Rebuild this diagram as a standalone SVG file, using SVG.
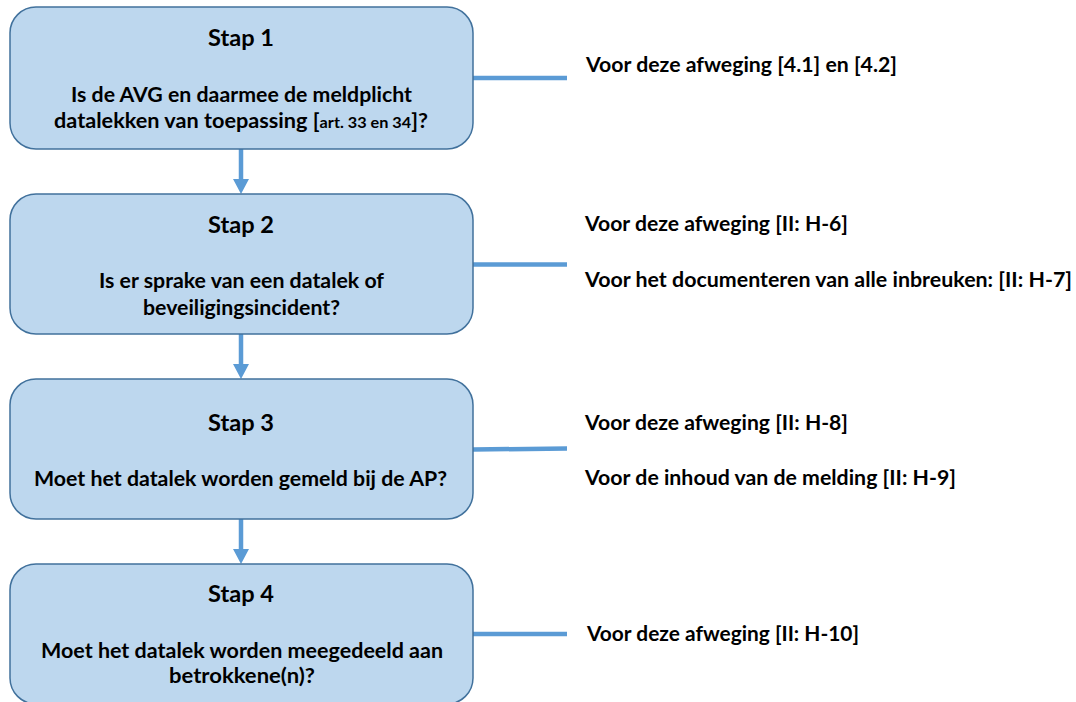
<svg xmlns="http://www.w3.org/2000/svg" width="1076" height="702" viewBox="0 0 1076 702">
  <defs>
    <style>
      .box { fill: #BDD7EE; stroke: #41719C; stroke-width: 1.5; }
      .link { stroke: #5B9BD5; stroke-width: 4.5; fill: none; }
      .head { fill: #5B9BD5; }
      text { font-family: Lato, "Open Sans", "Liberation Sans", sans-serif; font-weight: 700; fill: #000; }
      .title { font-size: 23px; text-anchor: middle; }
      .body { font-size: 20px; text-anchor: middle; }
      .small { font-size: 15px; }
      .note { font-size: 20px; text-anchor: start; }
    </style>
  </defs>

  <rect width="1076" height="702" fill="#FFFFFF"/>

  <!-- connectors: vertical flow arrows and side reference lines -->
  <g id="connectors">
    <line class="link" x1="241" y1="149" x2="241" y2="181"/>
    <polygon class="head" points="233,179 249,179 241,194"/>
    <line class="link" x1="241" y1="334" x2="241" y2="366"/>
    <polygon class="head" points="233,364 249,364 241,379"/>
    <line class="link" x1="241" y1="519" x2="241" y2="550"/>
    <polygon class="head" points="233,549 249,549 241,564"/>

    <line class="link" x1="473" y1="78" x2="567" y2="78" stroke-width="4"/>
    <line class="link" x1="473" y1="264.5" x2="567" y2="264.5" stroke-width="4"/>
    <line class="link" x1="473" y1="449.5" x2="567" y2="448.5" stroke-width="4"/>
    <line class="link" x1="473" y1="634" x2="567" y2="634" stroke-width="4"/>
  </g>

  <g id="stap1">
    <rect class="box" x="10" y="7" width="463" height="142" rx="26" ry="26"/>
    <text class="title" x="241" y="46" textLength="66" lengthAdjust="spacingAndGlyphs">Stap 1</text>
    <text class="body" x="241.5" y="102" textLength="341" lengthAdjust="spacingAndGlyphs">Is de AVG en daarmee de meldplicht</text>
    <text class="body" x="241" y="128" textLength="374" lengthAdjust="spacingAndGlyphs">datalekken van toepassing [<tspan class="small">art. 33 en 34</tspan>]?</text>
  </g>

  <g id="stap2">
    <rect class="box" x="10" y="194" width="463" height="140" rx="26" ry="26"/>
    <text class="title" x="241" y="233" textLength="66" lengthAdjust="spacingAndGlyphs">Stap 2</text>
    <text class="body" x="241.5" y="288" textLength="285" lengthAdjust="spacingAndGlyphs">Is er sprake van een datalek of</text>
    <text class="body" x="241.5" y="315" textLength="197" lengthAdjust="spacingAndGlyphs">beveiligingsincident?</text>
  </g>

  <g id="stap3">
    <rect class="box" x="10" y="379" width="463" height="140" rx="26" ry="26"/>
    <text class="title" x="241" y="431" textLength="66" lengthAdjust="spacingAndGlyphs">Stap 3</text>
    <text class="body" x="240.5" y="486" textLength="413" lengthAdjust="spacingAndGlyphs">Moet het datalek worden gemeld bij de AP?</text>
  </g>

  <g id="stap4">
    <rect class="box" x="10" y="564" width="463" height="140" rx="26" ry="26"/>
    <text class="title" x="241" y="602" textLength="66" lengthAdjust="spacingAndGlyphs">Stap 4</text>
    <text class="body" x="242" y="658" textLength="402" lengthAdjust="spacingAndGlyphs">Moet het datalek worden meegedeeld aan</text>
    <text class="body" x="242" y="683" textLength="146" lengthAdjust="spacingAndGlyphs">betrokkene(n)?</text>
  </g>

  <!-- reference notes beside each step -->
  <g id="notes1">
    <text class="note" x="586" y="72" textLength="311" lengthAdjust="spacingAndGlyphs">Voor deze afweging [4.1] en [4.2]</text>
  </g>
  <g id="notes2">
    <text class="note" x="585" y="231" textLength="263" lengthAdjust="spacingAndGlyphs">Voor deze afweging [II: H-6]</text>
    <text class="note" x="585" y="287" textLength="487" lengthAdjust="spacingAndGlyphs">Voor het documenteren van alle inbreuken: [II: H-7]</text>
  </g>
  <g id="notes3">
    <text class="note" x="585" y="430" textLength="263" lengthAdjust="spacingAndGlyphs">Voor deze afweging [II: H-8]</text>
    <text class="note" x="585" y="485" textLength="371" lengthAdjust="spacingAndGlyphs">Voor de inhoud van de melding [II: H-9]</text>
  </g>
  <g id="notes4">
    <text class="note" x="587" y="641" textLength="272" lengthAdjust="spacingAndGlyphs">Voor deze afweging [II: H-10]</text>
  </g>
</svg>
